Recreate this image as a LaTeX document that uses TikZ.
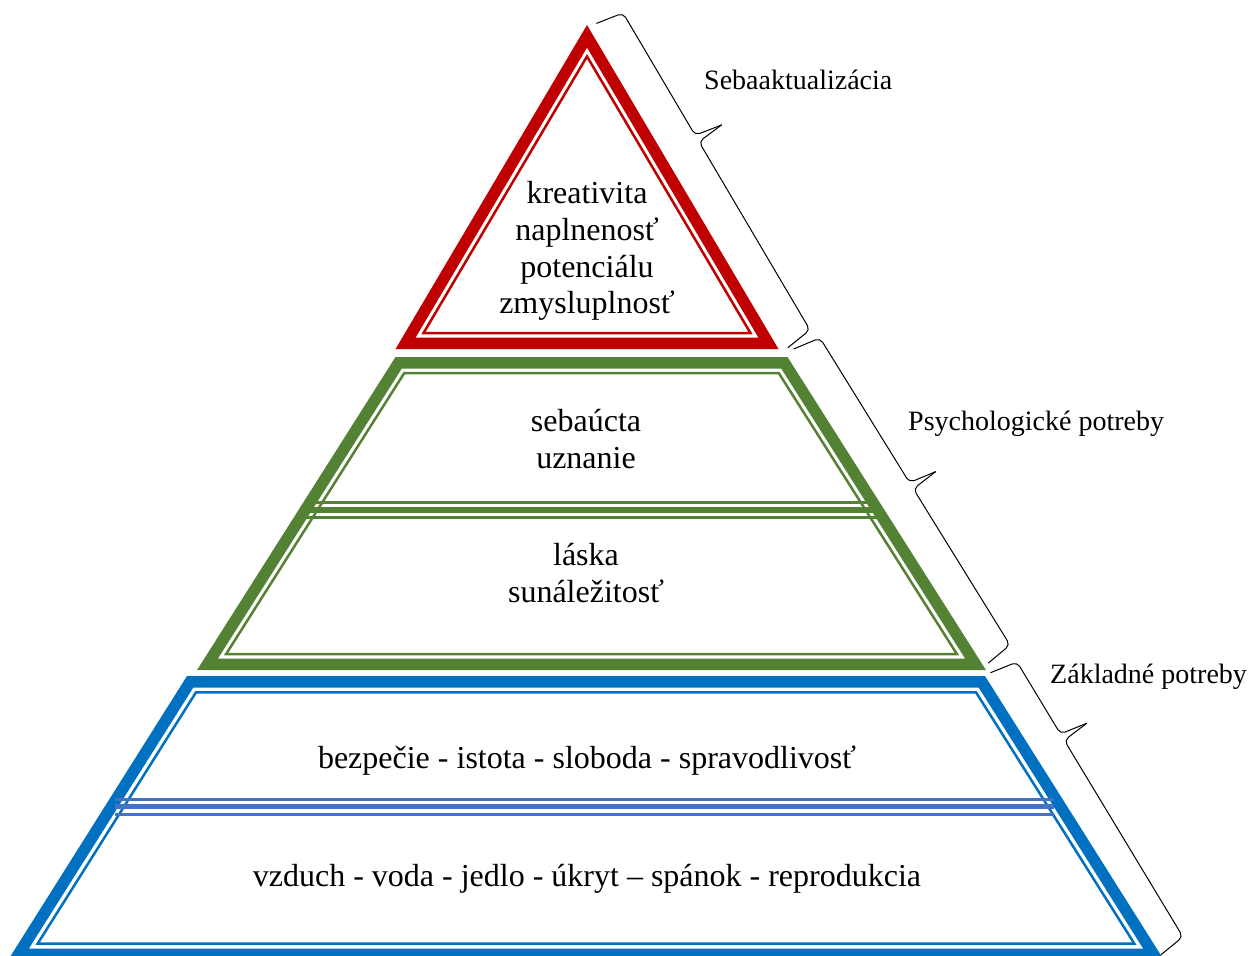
\documentclass[tikz,border=0pt]{standalone}
\usepackage{fontspec}
\setmainfont{Liberation Serif}
\definecolor{pyrred}{HTML}{C00000}
\definecolor{pyrgreen}{HTML}{548235}
\definecolor{pyrblue}{HTML}{0070C0}
\definecolor{pyrdiv}{HTML}{4472C4}
\newcommand\pyrbig{\fontsize{32}{36.8}\selectfont}
\newcommand\pyrlab{\fontsize{28}{32}\selectfont}
% symmetric trapezoid: cx, top, bottom, outer half-width at top, slope, inset, path command
\newcommand\trapz[7]{%
  \pgfmathsetmacro\tA{#2+#6}%
  \pgfmathsetmacro\bA{#3-#6}%
  \pgfmathsetmacro\hT{#4+#6*#5-#6*sqrt(1+#5*#5)}%
  \pgfmathsetmacro\hB{#4+(#3-#6-#2)*#5-#6*sqrt(1+#5*#5)}%
  #7 (#1-\hT,\tA) -- (#1+\hT,\tA) -- (#1+\hB,\bA) -- (#1-\hB,\bA) -- cycle;%
}
% triangle: cx, apex, bottom, slope, inset, path command
\newcommand\trian[6]{%
  \pgfmathsetmacro\aA{#2+#5*sqrt(1+#4*#4)/#4}%
  \pgfmathsetmacro\bA{#3-#5}%
  \pgfmathsetmacro\hB{(\bA-\aA)*#4}%
  #6 (#1,\aA) -- (#1+\hB,\bA) -- (#1-\hB,\bA) -- cycle;%
}
% slanted brace: corner x, corner y, angle, length, tip position
\newcommand\sbrace[5]{%
  \begin{scope}[shift={(#1,#2)}, x=1pt, y=1pt, rotate=#3]
    \draw[bracestyle, rounded corners=5pt] (-4.5,-28) -- (0,0) -- (#5,0) -- (#5+4.5,28);
    \draw[bracestyle, rounded corners=5pt] (#5+4.5,28) -- (#5+7.5,0) -- (#4,0) -- (#4+4,-28);
  \end{scope}%
}
\tikzset{
  bracestyle/.style={black, line width=1pt, line cap=round, line join=round},
  thickband/.style={line width=11.5pt, line join=miter},
  thinband/.style={line width=2.5pt, line join=miter},
  lab/.style={anchor=base west, inner sep=0pt, font=\pyrlab},
  txt/.style={inner sep=0pt, font=\pyrbig, align=center}
}
\begin{document}
\begin{tikzpicture}[x=1pt,y=-1pt]
\useasboundingbox (0,0) rectangle (1249,955);
\clip (0,0) rectangle (1249,955);

% ---- red triangle
\trian{587}{25}{349}{0.591}{5.75}{\draw[pyrred, thickband]}
\trian{587}{25}{349}{0.591}{16}{\draw[pyrred, thinband]}

% ---- green trapezoid
\begin{scope}
  \trapz{591.5}{357}{670}{196}{0.634}{6}{\clip}
  \foreach \yy/\ww in {502.5/2.5, 510/5.5, 517.5/2.5}
    \draw[pyrgreen, line width=\ww pt] (150,\yy) -- (1050,\yy);
\end{scope}
\trapz{591.5}{357}{670}{196}{0.634}{16}{\draw[pyrgreen, thinband]}
\trapz{591.5}{357}{670}{196}{0.634}{5.75}{\draw[pyrgreen, thickband]}

% ---- blue trapezoid
\trapz{586}{676}{960}{399}{0.630}{16.3}{\draw[pyrblue, thinband]}
\trapz{586}{676}{960}{399}{0.630}{5.75}{\draw[pyrblue, thickband]}
\foreach \yy/\ww in {799.3/2.7, 806.8/5, 814.7/2.7}
  \draw[pyrdiv, line width=\ww pt] (115,\yy) -- (1054,\yy);

% ---- texts
\node[txt] (top) at (587,251) {kreativita\\naplnenosť\\potenciálu\\zmysluplnosť};
\node[txt] (esteem) at (586,439) {sebaúcta\\uznanie};
\node[txt] (love) at (586,572.7) {láska\\sunáležitosť};
\node[txt, anchor=base] (safety) at (587,768.3) {bezpečie - istota - sloboda - spravodlivosť};
\node[txt, anchor=base] (phys) at (587,886.7) {vzduch - voda - jedlo - úkryt – spánok - reprodukcia};

% ---- braces
\sbrace{623}{13}{-59.46}{368}{142}
\sbrace{820}{338}{-58.25}{361}{170}
\sbrace{1017}{662}{-58.88}{321}{84}

% ---- labels
\node[lab] (l1) at (704,90) {Sebaaktualizácia};
\node[lab] (l2) at (908,430) {Psychologické potreby};
\node[lab] (l3) at (1050,683) {Základné potreby};
\end{tikzpicture}
\end{document}
